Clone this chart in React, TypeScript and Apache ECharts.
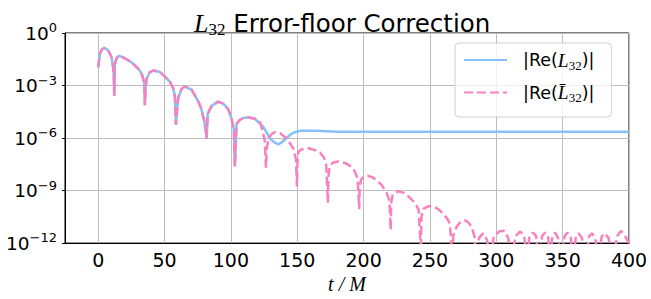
import React, { useEffect, useRef } from "react";
import * as echarts from "echarts";

const xTicks = [0, 50, 100, 150, 200, 250, 300, 350, 400];
const seriesNames = ["|Re(L32)|", "|Re(L̄32)|"];
const lineColors = ["#85C0F9", "#F782BF"];

// shared early ringdown (both curves overlap), [t/M, value]
const sharedRingdown: [number, number][] = [
  [0, 1.1e-2], [1.3, 6.3e-2], [2.8, 1.15e-1], [4.3, 1.4e-1], [6, 1.25e-1], [7.5, 1.0e-1],
  [9, 6.3e-2], [10.1, 4.0e-2], [11.3, 1.1e-2], [11.8, 3.0e-3], [12.1, 2.5e-4],
  [12.6, 1.7e-2], [13.9, 3.6e-2], [15.1, 4.9e-2], [17.5, 4.5e-2], [20.1, 3.6e-2], [25.2, 2.1e-2],
  [27.7, 1.4e-2], [31.4, 7.2e-3], [33.2, 3.9e-3], [34.7, 1.35e-3], [35.2, 7.4e-5],
  [35.7, 6.3e-4], [36.5, 2.5e-3], [39, 5.9e-3], [41.5, 7.2e-3], [46.5, 5.9e-3], [50.3, 3.2e-3],
  [54, 1.66e-3], [56.5, 7.1e-4], [57.8, 2.5e-4], [58.6, 5.9e-6],
  [59.2, 2.5e-5], [60.3, 2.0e-4], [62.9, 6.5e-4], [65.4, 8.7e-4], [70.4, 5.8e-4], [75.4, 1.26e-4],
  [77.4, 5.6e-5], [79.9, 1.0e-5], [81.0, 3.0e-6], [81.7, 9.1e-7],
  [82.5, 2.4e-5], [85.5, 6.9e-5], [90.4, 1.2e-4], [94.2, 9.3e-5], [98, 4.5e-5], [100.5, 1.26e-5],
  [102.3, 2.9e-6], [103, 2.4e-8],
  [104.3, 6.6e-6], [106.8, 1.1e-5], [109.3, 1.4e-5], [113, 1.55e-5], [118.1, 1.26e-5],
];

// |Re(L32)| after the error floor sets in
const blueTail: [number, number][] = [
  [121.9, 6.6e-6], [124.4, 4.4e-6], [126.8, 2.2e-6], [129.2, 1.0e-6], [132.4, 5.8e-7],
  [135.7, 4.3e-7], [138.4, 5.8e-7], [142, 1.0e-6], [145, 1.6e-6], [147, 2.0e-6], [152, 2.6e-6],
  [164.6, 2.6e-6], [180, 2.3e-6], [250, 2.3e-6], [320, 2.3e-6], [400, 2.3e-6],
];

// |Re(L̄32)| corrected, keeps ringing down
const pinkTail: [number, number][] = [
  [121.9, 8.3e-6], [124.4, 1.9e-6], [125.6, 6.3e-7], [126.4, 2.0e-8],
  [127, 2.5e-7], [128.5, 1.0e-6], [131, 1.8e-6], [133.5, 2.2e-6], [137, 1.9e-6], [141, 1.1e-6],
  [144.4, 5.2e-7], [147, 2.5e-7], [149, 6.3e-8], [149.8, 1.7e-9],
  [150.2, 4.0e-8], [150.8, 1.6e-7], [153, 2.2e-7], [158.3, 2.6e-7], [163, 2.1e-7], [167.1, 1.5e-7],
  [170, 7.9e-8], [171.8, 3.2e-8], [173.1, 2.0e-10],
  [173.5, 6.3e-9], [174.5, 2.5e-8], [177, 4.0e-8], [181, 4.6e-8], [186, 3.8e-8], [190, 2.5e-8],
  [193, 1.4e-8], [195.5, 5.0e-9], [196.7, 8.7e-11],
  [197, 1.26e-9], [198, 4.0e-9], [200, 6.3e-9], [203, 7.1e-9], [207, 5.6e-9], [210.5, 3.5e-9],
  [213.6, 2.1e-9], [217.4, 7.4e-10], [219.5, 2.5e-10], [220.4, 5.6e-12],
  [220.8, 2.0e-10], [222, 6.3e-10], [226, 9.1e-10], [230, 7.6e-10], [234, 4.5e-10], [238.7, 2.0e-10],
  [241.5, 7.9e-11], [243.2, 3.0e-13],
  [243.6, 3.2e-11], [245, 8.9e-11], [249, 1.3e-10], [253, 1.2e-10], [257, 7.9e-11], [260, 4.7e-11],
  [263, 2.5e-11], [265, 1.3e-11], [267.1, 1.0e-13],
  [267.5, 2.5e-12], [270, 8.5e-12], [273, 1.6e-11], [276.4, 2.0e-11], [279, 1.5e-11], [281.4, 8.5e-12],
  [283.5, 2.5e-12], [284.8, 1.0e-13],
  [287, 2.0e-12], [290, 3.6e-12], [293, 1.5e-12], [295.5, 1.0e-13], [298, 2.0e-12], [302, 4.6e-12],
  [306, 5.0e-12], [309, 2.0e-12], [311.5, 1.0e-13], [314.5, 2.5e-12], [318, 4.6e-12], [321, 2.5e-12],
  [323, 1.0e-13], [325, 2.5e-12], [327.7, 4.0e-12], [330, 2.5e-12], [332, 1.0e-13], [334.5, 2.5e-12],
  [336.7, 4.0e-12], [339, 2.5e-12], [340.5, 1.0e-13], [342.3, 2.5e-12], [344.3, 4.0e-12], [346.5, 2.0e-12],
  [349, 1.0e-13], [351.5, 2.5e-12], [353.7, 4.0e-12], [356, 2.5e-12], [358, 1.0e-13], [360, 2.5e-12],
  [362, 3.6e-12], [364.5, 2.0e-12], [367.5, 1.0e-13], [370, 2.5e-12], [372.2, 3.6e-12], [374.5, 2.0e-12],
  [377, 1.0e-13], [379.5, 2.5e-12], [381.9, 3.6e-12], [384.5, 2.0e-12], [388, 1.0e-13], [391, 2.5e-12],
  [394, 5.0e-12], [397, 2.5e-12], [400, 1.0e-12],
];

const blueData = sharedRingdown.concat(blueTail);
const pinkData = sharedRingdown.concat(pinkTail);

const SANS = "DejaVu Sans";
const SERIF = "Liberation Serif";

export default function App() {
  const ref = useRef<HTMLDivElement>(null);
  useEffect(() => {
    if (!ref.current) return;
    const chart = echarts.init(ref.current, undefined, { renderer: "svg" });
    const legendRich = {
      p: { fontFamily: SANS, fontSize: 17.5, lineHeight: 23, color: "#000" },
      m: { fontFamily: SERIF, fontStyle: "italic", fontSize: 19.5, lineHeight: 23, color: "#000" },
      sub: { fontFamily: SERIF, fontSize: 13, lineHeight: 13, verticalAlign: "bottom", color: "#000" },
    };
    chart.setOption({
      animation: false,
      textStyle: { fontFamily: SANS },
      title: {
        text: "{m|L}{sub|32}{n| Error-floor Correction}",
        left: 194,
        top: 8,
        padding: 0,
        textStyle: {
          fontWeight: "normal",
          rich: {
            m: { fontFamily: SERIF, fontStyle: "italic", fontWeight: "normal", fontSize: 26, lineHeight: 30, color: "#000" },
            sub: { fontFamily: SERIF, fontWeight: "normal", fontSize: 17, lineHeight: 18, verticalAlign: "bottom", color: "#000" },
            n: { fontFamily: SANS, fontWeight: "normal", fontSize: 24.5, lineHeight: 30, color: "#000" },
          },
        },
      },
      grid: {
        left: 65, right: 22, top: 33, bottom: 49,
        show: true, borderColor: "#000", borderWidth: 1, backgroundColor: "transparent",
      },
      legend: {
        orient: "vertical",
        left: 455,
        top: 43,
        padding: [7, 17, 13, 8],
        itemWidth: 43,
        itemHeight: 14,
        itemGap: 11,
        backgroundColor: "rgba(255,255,255,0.8)",
        borderColor: "#d0d0d0",
        borderWidth: 1,
        borderRadius: 4,
        data: seriesNames,
        itemStyle: { opacity: 0 },
        textStyle: { fontSize: 17.5, padding: [0, 0, 0, 11], rich: legendRich },
        formatter: (name: string) =>
          name === seriesNames[0]
            ? "{p||Re(}{m|L}{sub|32}{p|)|}"
            : "{p||Re(}{m|L̄}{sub|32}{p|)|}",
      },
      xAxis: {
        type: "value",
        min: -25,
        max: 400,
        name: "t / M",
        nameLocation: "middle",
        nameGap: 30,
        nameTextStyle: { fontFamily: SERIF, fontStyle: "italic", fontSize: 20, color: "#000" },
        axisLine: { show: true, onZero: false, lineStyle: { color: "#000", width: 1 } },
        axisTick: { show: false, customValues: xTicks },
        axisLabel: { customValues: xTicks, fontSize: 19, color: "#000", margin: 7, fontFamily: SANS },
        splitLine: { show: true, lineStyle: { color: "#bdbdbd", width: 1 } },
      },
      yAxis: {
        type: "log",
        logBase: 1000,
        min: 1e-12,
        max: 1,
        axisLine: { show: true, onZero: false, lineStyle: { color: "#000", width: 1 } },
        axisTick: { show: true, length: 3, lineStyle: { color: "#000" } },
        axisLabel: {
          margin: 8,
          color: "#000",
          formatter: (v: number) => {
            const e = Math.round(Math.log10(v));
            const s = e < 0 ? "−" + -e : String(e);
            return "{b|10}{s|" + s + "}";
          },
          rich: {
            b: { fontFamily: SANS, fontSize: 18.5, lineHeight: 24, color: "#000" },
            s: { fontFamily: SANS, fontSize: 13, lineHeight: 13, verticalAlign: "top", color: "#000" },
          },
        },
        splitLine: { show: true, lineStyle: { color: "#bdbdbd", width: 1 } },
      },
      series: [
        {
          name: seriesNames[0],
          type: "line",
          data: blueData,
          showSymbol: false,
          symbol: "none",
          clip: true,
          lineStyle: { color: lineColors[0], width: 2.5 },
          itemStyle: { color: lineColors[0] },
        },
        {
          name: seriesNames[1],
          type: "line",
          data: pinkData,
          showSymbol: false,
          symbol: "none",
          clip: true,
          lineStyle: { color: lineColors[1], width: 2.5, type: [9, 4] },
          itemStyle: { color: lineColors[1] },
        },
      ],
    });
    return () => chart.dispose();
  }, []);
  return (
    <div
      ref={ref}
      style={{ position: "fixed", left: 0, top: 0, width: 651, height: 299, background: "#fff" }}
    />
  );
}
